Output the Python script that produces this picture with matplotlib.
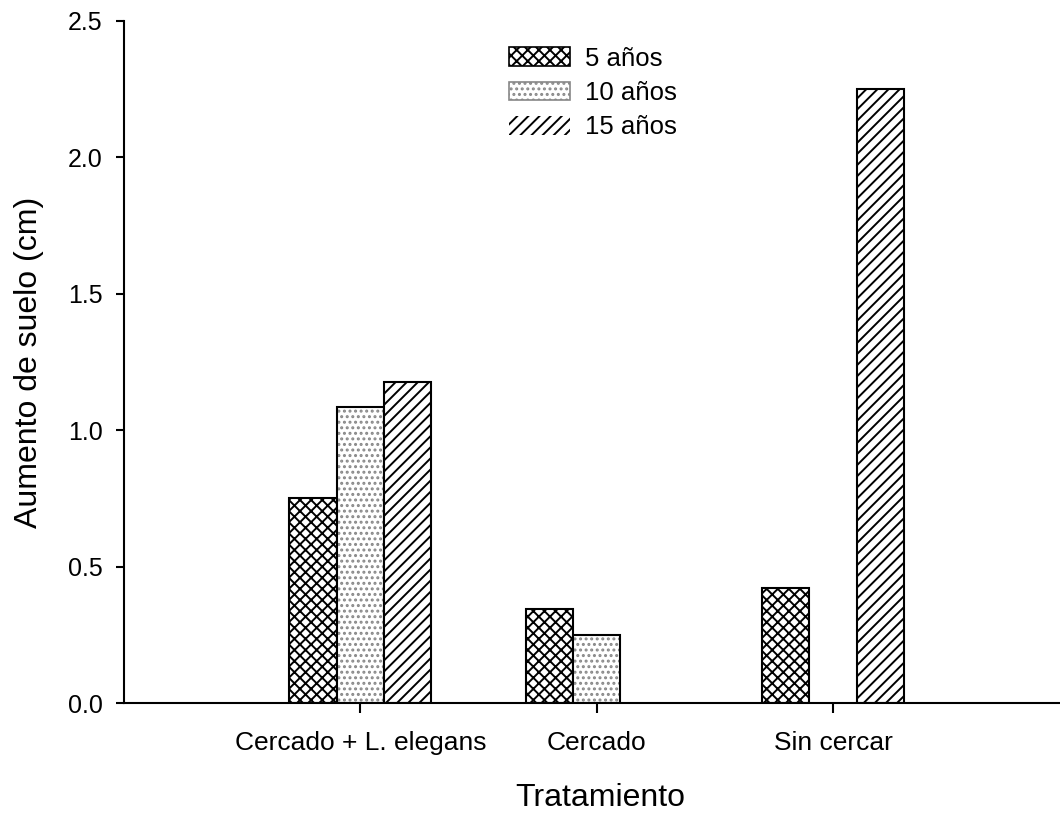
import numpy as np
import matplotlib.pyplot as plt
from matplotlib.patches import Patch

plt.rcParams['font.family'] = ['Liberation Sans', 'DejaVu Sans']
plt.rcParams['hatch.linewidth'] = 1.4

tratamientos = ["Cercado + L. elegans", "Cercado", "Sin cercar"]
series = ["5 años", "10 años", "15 años"]
v5 = [0.75, 0.345, 0.42]
v10 = [1.085, 0.25, np.nan]
v15 = [1.175, np.nan, 2.25]

hatches = ["xxx", "...", "///"]
hatch_colors = ["black", "#888888", "black"]

fig = plt.figure(figsize=(10.6, 8.13), dpi=100)
ax = fig.add_axes([0.117, 0.1353, 0.883, 0.839])

x = np.arange(1, len(tratamientos) + 1)
w = 0.2
for i, vals in enumerate([v5, v10, v15]):
    pos = x + (i - 1) * w
    # hatch drawn in its own colour, then a black outline on top
    ax.bar(pos, vals, w, color="white", edgecolor=hatch_colors[i],
           hatch=hatches[i], linewidth=0)
    ax.bar(pos, vals, w, fill=False, edgecolor="black", linewidth=1.5)

ax.set_xlim(0, 3.96)
ax.set_ylim(0, 2.5)
ax.set_yticks([0, 0.5, 1.0, 1.5, 2.0, 2.5])
ax.set_yticklabels(["0.0", "0.5", "1.0", "1.5", "2.0", "2.5"])
ax.set_xticks(x)
ax.set_xticklabels(tratamientos)

for s in ["top", "right"]:
    ax.spines[s].set_visible(False)
for s in ["left", "bottom"]:
    ax.spines[s].set_linewidth(1.5)
ax.tick_params(axis="both", direction="out", width=1.5)
ax.tick_params(axis="y", length=5.5, pad=10, labelsize=18)
ax.tick_params(axis="x", length=7, pad=13, labelsize=19)

ax.set_xlabel("Tratamiento", fontsize=23)
ax.xaxis.set_label_coords(0.5085, -0.117)
ax.set_ylabel("Aumento de suelo (cm)", fontsize=23, labelpad=17)

handles = []
for i, lab in enumerate(series):
    h = Patch(facecolor="white", edgecolor=hatch_colors[i], hatch=hatches[i],
              linewidth=0, label=lab)
    handles.append(h)
leg = ax.legend(handles=handles, loc="upper left", bbox_to_anchor=(0.387, 0.996),
                frameon=False, fontsize=18.5, handlelength=2.37, handleheight=0.74,
                labelspacing=0.4, handletextpad=0.58)
for p in leg.get_patches()[:2]:
    p.set_edgecolor("black")
    p.set_linewidth(1.2)
leg.get_patches()[1].set_edgecolor("#888888")

fig.savefig("out.png", dpi=100)
